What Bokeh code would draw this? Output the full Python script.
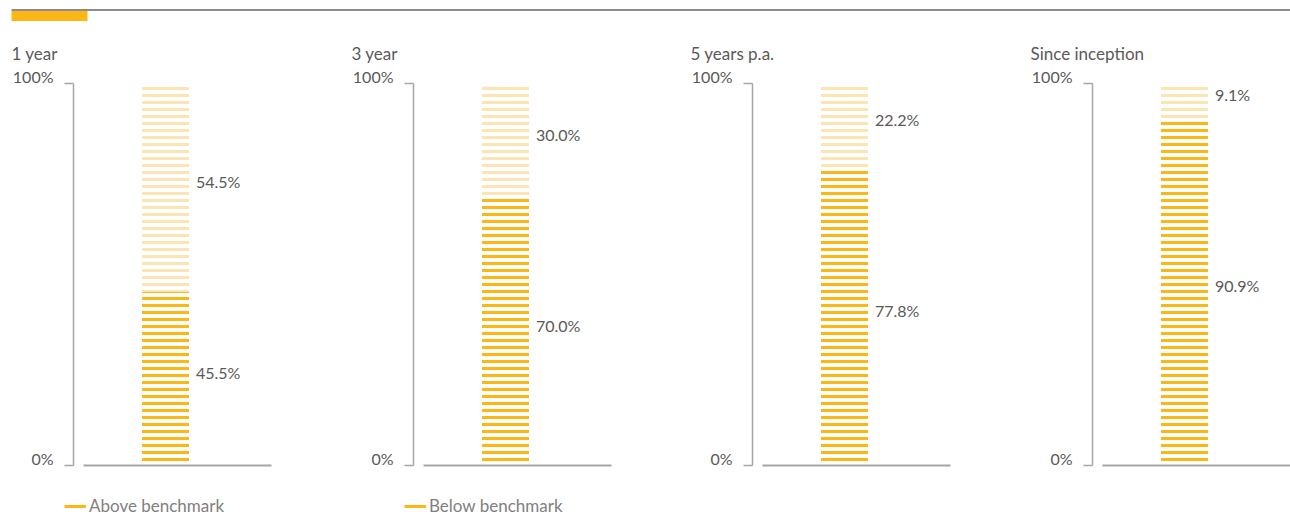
from bokeh.plotting import figure
from bokeh.models import Range1d, FixedTicker, Legend, LegendItem
from bokeh.layouts import column, row
from bokeh.embed import file_html
from bokeh.resources import INLINE

# ---- data ----
periods = ["1 year", "3 year", "5 years p.a.", "Since inception"]
above_pct = [45.5, 70.0, 77.8, 90.9]   # dark stripes (bottom part)
below_pct = [54.5, 30.0, 22.2, 9.1]    # light stripes (top part)
legend_labels = ["Above benchmark", "Below benchmark"]
y_ticks = [0, 100]
y_tick_labels = {0: "0%", 100: "100%"}

ORANGE = "#FDB714"
LIGHT = "#FDE4B3"
AXIS_GREY = "#A6A6A6"
TEXT = "#595959"
FONT = "Lato"

TOTAL_W = 1282
widths = [340, 339, 340, 263]
FIG_H = 469
FRAME_LEFT = 65
FRAME_W = 198
BAR_CENTER = 92
BAR_W = 47


def make_panel(i):
    w = widths[i]
    mbr = max(w - FRAME_LEFT - FRAME_W, 0)
    fw = w - FRAME_LEFT - mbr
    p = figure(width=w, height=FIG_H,
               x_range=Range1d(-BAR_CENTER, fw - BAR_CENTER),
               y_range=Range1d(0, 100),
               output_backend="svg", toolbar_location=None,
               min_border_left=FRAME_LEFT, min_border_right=mbr,
               min_border_top=10, min_border_bottom=25,
               title=periods[i])
    p.outline_line_color = None
    p.grid.visible = False
    p.background_fill_color = "white"
    p.border_fill_color = "white"

    t = p.title
    t.align = "left"
    t.offset = -62
    t.standoff = 39
    t.text_font = FONT
    t.text_font_size = "17px"
    t.text_font_style = "normal"
    t.text_color = TEXT

    ya = p.yaxis[0]
    ya.ticker = FixedTicker(ticks=y_ticks)
    # trailing line break lifts each label a little above its tick
    ya.major_label_overrides = {k: s + "\n" for k, s in y_tick_labels.items()}
    ya.major_label_text_line_height = 0.7
    ya.major_tick_out = 9
    ya.major_tick_in = 0
    ya.minor_tick_out = 0
    ya.minor_tick_in = 0
    ya.axis_line_color = AXIS_GREY
    ya.axis_line_width = 1.5
    ya.major_tick_line_color = AXIS_GREY
    ya.major_tick_line_width = 1.5
    ya.major_label_text_font = FONT
    ya.major_label_text_font_size = "16px"
    ya.major_label_text_color = TEXT
    ya.major_label_standoff = 11

    xa = p.xaxis[0]
    xa.ticker = FixedTicker(ticks=[])
    xa.major_tick_out = 0
    xa.major_tick_in = 0
    xa.minor_tick_out = 0
    xa.minor_tick_in = 0
    xa.axis_line_color = AXIS_GREY
    xa.axis_line_width = 2
    xa.major_label_text_font_size = "0px"
    xa.bounds = (-82, fw - BAR_CENTER)

    v = above_pct[i]
    u = below_pct[i]
    p.vbar(x=[0], width=BAR_W, bottom=[0], top=[v],
           fill_color=None, line_color=None,
           hatch_pattern="horizontal_line", hatch_scale=7, hatch_weight=3,
           hatch_color=ORANGE)
    p.vbar(x=[0], width=BAR_W, bottom=[v], top=[v + u],
           fill_color=None, line_color=None,
           hatch_pattern="horizontal_line", hatch_scale=7, hatch_weight=3,
           hatch_color=LIGHT)

    p.text(x=[0, 0], y=[v / 2, v + u / 2],
           text=[f"{v:.1f}%", f"{u:.1f}%"],
           x_offset=BAR_W / 2 + 7, y_offset=-6,
           text_align="left", text_baseline="middle",
           text_font_size="16px", text_color=TEXT,
           text_font={"value": FONT})
    return p


header = figure(width=TOTAL_W, height=13, x_range=Range1d(0, TOTAL_W),
                y_range=Range1d(13, 0), output_backend="svg",
                toolbar_location=None, min_border=0,
                x_axis_type=None, y_axis_type=None)
header.outline_line_color = None
header.grid.visible = False
header.segment(x0=[3], y0=[1.5], x1=[TOTAL_W], y1=[1.5],
               line_color="#8C8C8C", line_width=2)
header.quad(left=[3], right=[79], top=[2.5], bottom=[12.5],
            fill_color=ORANGE, line_color=None)

# legend strip (dummy off-range lines supply the legend glyphs)
strip = figure(width=TOTAL_W, height=32, x_range=Range1d(0, TOTAL_W),
               y_range=Range1d(0, 32), output_backend="svg",
               toolbar_location=None, min_border=0,
               x_axis_type=None, y_axis_type=None)
strip.outline_line_color = None
strip.grid.visible = False
for k, lab in enumerate(legend_labels):
    r = strip.line(x=[-50, -40], y=[-50, -50], line_color=ORANGE, line_width=3)
    lg = Legend(items=[LegendItem(label=lab, renderers=[r])],
                location=(56 + 340 * k, 6), orientation="horizontal",
                glyph_width=22, glyph_height=20, label_height=20,
                label_standoff=3, padding=0, margin=0, spacing=0,
                border_line_color=None, background_fill_alpha=0,
                label_text_font=FONT, label_text_font_size="17px",
                label_text_color="#808080")
    strip.add_layout(lg, "center")

panels = [make_panel(i) for i in range(len(periods))]
layout = column(header, row(*panels, spacing=0), strip, spacing=0,
                margin=(8, 0, 0, 8))

open("out.html", "w").write(file_html(layout, INLINE))
